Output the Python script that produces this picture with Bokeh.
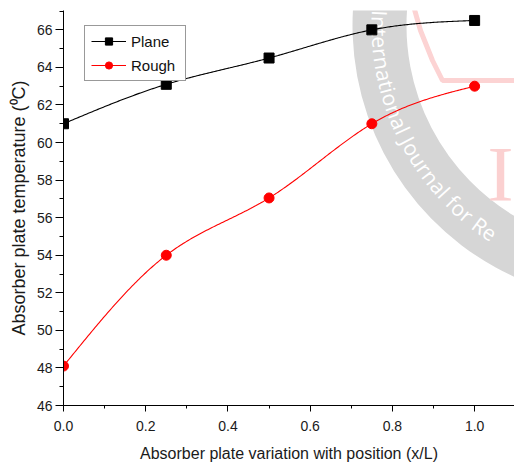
import numpy as np
from bokeh.plotting import figure
from bokeh.models import Range1d, FixedTicker, NumeralTickFormatter, Legend, LegendItem
from bokeh.embed import file_html
from bokeh.resources import INLINE
from bokeh.core.properties import value

# ---------------- data ----------------
position = [0.0, 0.25, 0.5, 0.75, 1.0]
plane = [61.0, 63.1, 64.5, 66.0, 66.5]
rough = [48.1, 54.0, 57.05, 61.0, 63.0]
series_names = ["Plane", "Rough"]
x_major = [0.0, 0.2, 0.4, 0.6, 0.8, 1.0]
x_minor = [0.1, 0.3, 0.5, 0.7, 0.9, 1.1]
y_major = [46, 48, 50, 52, 54, 56, 58, 60, 62, 64, 66]
y_minor = list(range(46, 68))
x_label = "Absorber plate variation with position (x/L)"
y_label = "Absorber plate temperature (\u2070C)"
watermark_text = "International Journal for Re"


def natural_spline(xs, ys, n=300):
    xs = np.asarray(xs, float)
    ys = np.asarray(ys, float)
    k = len(xs)
    h = np.diff(xs)
    A = np.zeros((k, k))
    b = np.zeros(k)
    A[0, 0] = 1
    A[-1, -1] = 1
    for i in range(1, k - 1):
        A[i, i - 1] = h[i - 1]
        A[i, i] = 2 * (h[i - 1] + h[i])
        A[i, i + 1] = h[i]
        b[i] = 6 * ((ys[i + 1] - ys[i]) / h[i] - (ys[i] - ys[i - 1]) / h[i - 1])
    M = np.linalg.solve(A, b)
    xx = np.linspace(xs[0], xs[-1], n)
    idx = np.clip(np.searchsorted(xs, xx) - 1, 0, k - 2)
    x0 = xs[idx]
    x1 = xs[idx + 1]
    hh = x1 - x0
    t0 = x1 - xx
    t1 = xx - x0
    yy = ((M[idx] * t0 ** 3 + M[idx + 1] * t1 ** 3) / (6 * hh)
          + (ys[idx] / hh - M[idx] * hh / 6) * t0
          + (ys[idx + 1] / hh - M[idx + 1] * hh / 6) * t1)
    return xx, yy


X_END = 1.097
Y_START, Y_END = 46, 67.03
FL, FT, FW, FH = 63, 10, 451, 395   # frame geometry in px

p = figure(width=514, height=470,
           x_range=Range1d(0, X_END), y_range=Range1d(Y_START, Y_END),
           output_backend="svg", toolbar_location=None,
           min_border_left=FL, min_border_right=0,
           min_border_top=FT, min_border_bottom=470 - FT - FH)
p.outline_line_color = None
p.grid.visible = False
p.background_fill_color = "white"


# ---------------- watermark (decoration, placed in pixel space) ----------------
def sx(px):
    return (px - FL) / FW * X_END


def sy(py):
    return Y_START + (FT + FH - py) / FH * (Y_END - Y_START)


wcx, wcy = 628, 25
p.annular_wedge(x=sx(wcx), y=sy(wcy), inner_radius=222, outer_radius=276,
                inner_radius_units="screen", outer_radius_units="screen",
                start_angle=np.radians(140), end_angle=np.radians(275),
                fill_color="#d6d6d6", line_color=None)

# pink logo strokes
p.line([sx(410), sx(420), sx(432), sx(442), sx(520)],
       [sy(-5), sy(30), sy(60), sy(80), sy(80)],
       line_color="#fcd3d3", line_width=5)
p.text(x=[sx(500)], y=[sy(173)], text=["I"], text_align="center",
       text_baseline="alphabetic", text_color="#fbd0d0",
       text_font=value("Liberation Serif"), text_font_size=value("78px"))

em = {'I': .28, 'n': .61, 't': .35, 'e': .56, 'r': .41, 'a': .56, 'i': .26,
      'o': .60, 'l': .26, ' ': .26, 'J': .27, 'u': .61, 'f': .34, 'R': .60}
fs = 21
rr = 249
theta = np.radians(176.5)
cx_l, cy_l, ang_l, ch_l = [], [], [], []
for ch in watermark_text:
    w = em.get(ch, .55) * fs
    th = theta + (w / 2) / rr
    px = wcx + rr * np.cos(th)
    py = wcy - rr * np.sin(th)
    cx_l.append(sx(px))
    cy_l.append(sy(py))
    ang_l.append(th + np.pi / 2)
    ch_l.append(ch)
    theta += w / rr
p.text(x=cx_l, y=cy_l, text=ch_l, angle=ang_l, text_align="center",
       text_baseline="middle", text_color="white",
       text_font=value("Open Sans"), text_font_size=value(f"{fs}px"))

# ---------------- series ----------------
px_, py_ = natural_spline(position, plane)
rx_, ry_ = natural_spline(position, rough)
l1 = p.line(px_, py_, line_color="black", line_width=1.1)
s1 = p.scatter(position, plane, marker="square", size=10, color="black")
l2 = p.line(rx_, ry_, line_color="#ff0000", line_width=1.1)
s2 = p.scatter(position, rough, marker="circle", size=10, color="#ff0000")

legend = Legend(items=[LegendItem(label=series_names[0], renderers=[l1, s1]),
                       LegendItem(label=series_names[1], renderers=[l2, s2])],
                location=(21, 324))
legend.label_text_font = "Liberation Sans"
legend.label_text_font_size = "15px"
legend.label_text_color = "#111111"
legend.glyph_width = 35
legend.glyph_height = 18
legend.label_height = 18
legend.label_width = 48
legend.label_standoff = 5
legend.padding = 6
legend.spacing = 6
legend.margin = 0
legend.border_line_color = "#333333"
legend.border_line_width = 1
legend.background_fill_alpha = 1.0
p.add_layout(legend)

# ---------------- axes ----------------
xa = p.xaxis[0]
ya = p.yaxis[0]
xa.ticker = FixedTicker(ticks=x_major, minor_ticks=x_minor)
ya.ticker = FixedTicker(ticks=y_major, minor_ticks=y_minor)
xa.formatter = NumeralTickFormatter(format="0.0")
ya.formatter = NumeralTickFormatter(format="0")
xa.axis_label = x_label
ya.axis_label = y_label
for ax in (xa, ya):
    ax.axis_line_color = "black"
    ax.axis_line_width = 1
    ax.major_tick_line_color = "black"
    ax.minor_tick_line_color = "black"
    ax.major_tick_in = 0
    ax.minor_tick_in = 0
    ax.major_label_text_font = "Liberation Sans"
    ax.major_label_text_font_size = "14px"
    ax.major_label_text_color = "#1a1a1a"
    ax.axis_label_text_font = "Liberation Sans"
    ax.axis_label_text_font_style = "normal"
    ax.axis_label_text_color = "#1a1a1a"
xa.axis_label_text_font_size = "16px"
ya.axis_label_text_font_size = "18px"
xa.major_tick_out = 6
xa.minor_tick_out = 3
xa.major_label_standoff = 9
xa.axis_label_standoff = 11
ya.major_tick_out = 8
ya.minor_tick_out = 4
ya.major_label_standoff = 3
ya.axis_label_standoff = 5

open("out.html", "w").write(file_html(p, INLINE))
